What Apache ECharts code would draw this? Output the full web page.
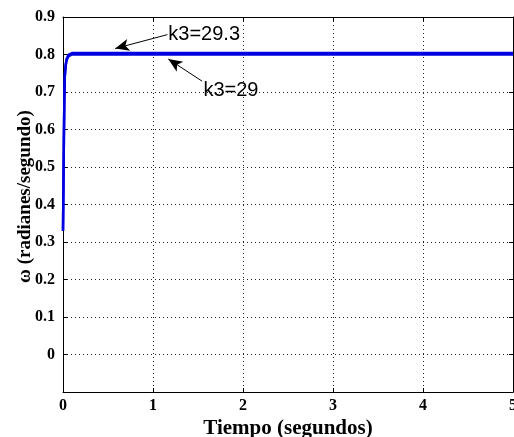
<!DOCTYPE html>
<html lang="es">
<head>
	<meta charset="UTF-8">
	<title>omega</title>
	<style>
		html, body { margin: 0; padding: 0; background: #fff; }
		#main { width: 514px; height: 437px; }
	</style>
	<script src="https://cdn.jsdelivr.net/npm/echarts@6/dist/echarts.min.js"></script>
</head>
<body>
	<div id="main"></div>
	<script>
		// datos
		var tiempo = [0, 0.005, 0.01, 0.015, 0.02, 0.03, 0.04, 0.06, 0.08, 0.1, 5];
		var omegaK29 = [0.33, 0.45, 0.58, 0.68, 0.74, 0.77, 0.785, 0.795, 0.8, 0.8, 0.8];
		var omegaK293 = [0.33, 0.452, 0.583, 0.683, 0.743, 0.773, 0.788, 0.799, 0.804, 0.804, 0.804];
		var xTicks = [0, 1, 2, 3, 4, 5];
		var yTicks = [0, 0.1, 0.2, 0.3, 0.4, 0.5, 0.6, 0.7, 0.8, 0.9];

		// flechas y textos (coordenadas de datos)
		var flecha293 = [[1.16, 0.853], [0.58, 0.816]];
		var flecha29 = [[1.545, 0.729], [1.17, 0.788]];
		var texto293 = [1.17, 0.853];
		var texto29 = [1.56, 0.705];

		function pares(xs, ys) {
			return xs.map(function (x, i) { return [x, ys[i]]; });
		}

		var chart = echarts.init(document.getElementById('main'));
		var serif = '"Liberation Serif", "Times New Roman", serif';
		var dotted = { color: '#222', width: 1, type: [1, 3] };

		var option = {
			animation: false,
			grid: { left: 63, right: 1, top: 17, bottom: 45, outerBoundsMode: 'none', containLabel: false },
			xAxis: [{
				type: 'value', min: 0, max: 5, interval: 1,
				name: 'Tiempo (segundos)', nameLocation: 'middle', nameGap: 26, nameMoveOverlap: false,
				nameTextStyle: { fontFamily: serif, fontWeight: 'bold', fontSize: 21, color: '#000' },
				axisLine: { onZero: false, lineStyle: { color: '#000', width: 1 } },
				axisTick: { inside: true, length: 4, lineStyle: { color: '#000' } },
				axisLabel: { fontFamily: serif, fontWeight: 'bold', fontSize: 16, color: '#000', margin: 6,
					formatter: function (v) { return xTicks.indexOf(v) >= 0 ? String(v) : ''; } },
				splitLine: { show: true, lineStyle: dotted }
			}, {
				type: 'value', min: 0, max: 5, interval: 1, position: 'top',
				axisLine: { show: true, onZero: false, lineStyle: { color: '#000', width: 1 } },
				axisTick: { inside: true, length: 4, lineStyle: { color: '#000' } },
				axisLabel: { show: false }, splitLine: { show: false }
			}],
			yAxis: [{
				type: 'value', min: -0.1, max: 0.9, interval: 0.1,
				name: 'ω (radianes/segundo)', nameLocation: 'middle', nameGap: 28, nameMoveOverlap: false,
				nameTextStyle: { fontFamily: serif, fontWeight: 'bold', fontSize: 19, color: '#000',
					padding: [0, 0, 0, 16] },
				axisLine: { show: true, onZero: false, lineStyle: { color: '#000', width: 1 } },
				axisTick: { inside: true, length: 4, lineStyle: { color: '#000' } },
				axisLabel: { fontFamily: serif, fontWeight: 'bold', fontSize: 16, color: '#000', margin: 8,
					formatter: function (v) {
						var r = Math.round(v * 10) / 10;
						return yTicks.indexOf(r) >= 0 ? String(r) : '';
					} },
				splitLine: { show: true, lineStyle: dotted }
			}, {
				type: 'value', min: -0.1, max: 0.9, interval: 0.1, position: 'right',
				axisLine: { show: true, onZero: false, lineStyle: { color: '#000', width: 1 } },
				axisTick: { inside: true, length: 4, lineStyle: { color: '#000' } },
				axisLabel: { show: false }, splitLine: { show: false }
			}],
			series: [{
				name: 'k3=29',
				type: 'line',
				data: pares(tiempo, omegaK29),
				showSymbol: false,
				lineStyle: { color: '#0000e0', width: 2.5 },
				markPoint: {
					symbol: 'circle', symbolSize: 0,
					label: { show: true, position: 'right', distance: 0, color: '#000',
						fontFamily: '"Liberation Sans", Arial, sans-serif', fontSize: 20 },
					data: [{ coord: texto29, label: { formatter: 'k3=29' } }]
				},
				markLine: {
					silent: true, symbol: ['none', 'arrow'], symbolSize: [9, 14],
					lineStyle: { color: '#000', width: 1, type: 'solid' },
					label: { show: false },
					data: [[{ coord: flecha29[0] }, { coord: flecha29[1] }]]
				}
			}, {
				name: 'k3=29.3',
				type: 'line',
				data: pares(tiempo, omegaK293),
				showSymbol: false,
				lineStyle: { color: '#0000e0', width: 2.5 },
				markPoint: {
					symbol: 'circle', symbolSize: 0,
					label: { show: true, position: 'right', distance: 0, color: '#000',
						fontFamily: '"Liberation Sans", Arial, sans-serif', fontSize: 20 },
					data: [{ coord: texto293, label: { formatter: 'k3=29.3' } }]
				},
				markLine: {
					silent: true, symbol: ['none', 'arrow'], symbolSize: [9, 14],
					lineStyle: { color: '#000', width: 1, type: 'solid' },
					label: { show: false },
					data: [[{ coord: flecha293[0] }, { coord: flecha293[1] }]]
				}
			}]
		};

		chart.setOption(option);
	</script>
</body>
</html>
